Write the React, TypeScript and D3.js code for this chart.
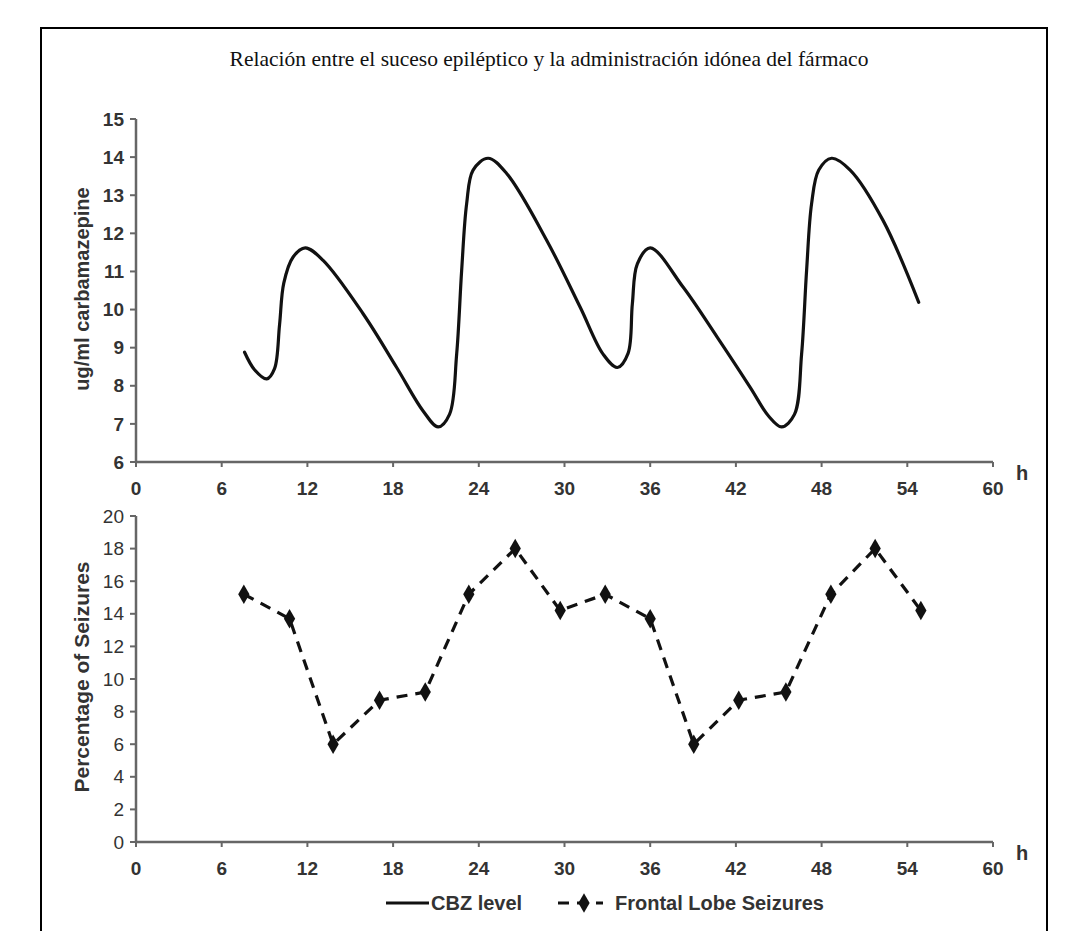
import React, { useEffect, useRef } from 'react';
import * as d3 from 'd3';

const title = 'Relación entre el suceso epiléptico y la administración idónea del fármaco';

// CBZ level curve (hours, ug/ml)
const cbzHours = [7.6, 8.3, 9.15, 9.7, 10.05, 10.35, 11.0, 11.85, 13.1, 15.9, 18.25, 20.1, 21.15, 21.95, 22.45, 22.8, 23.15, 23.6, 24.65, 25.95, 28.75, 31.1, 32.7, 33.7, 34.45, 34.75, 35.1, 36.0, 38.3, 40.7, 43.0, 44.3, 45.2, 46.1, 46.6, 46.95, 47.3, 47.8, 48.7, 50.0, 52.3, 54.8];
const cbzLevel = [8.88, 8.42, 8.18, 8.45, 9.6, 10.7, 11.38, 11.62, 11.29, 9.89, 8.48, 7.34, 6.92, 7.25, 8.83, 11.03, 12.78, 13.66, 13.97, 13.57, 11.82, 10.06, 8.83, 8.48, 8.85, 10.15, 11.2, 11.62, 10.59, 9.27, 7.96, 7.2, 6.92, 7.25, 8.83, 11.03, 12.78, 13.66, 13.97, 13.66, 12.34, 10.19];

// Frontal lobe seizures (hours, %)
const seizureHours = [7.55, 10.75, 13.8, 17.05, 20.25, 23.3, 26.55, 29.7, 32.85, 36.0, 39.05, 42.2, 45.5, 48.65, 51.75, 54.95];
const seizurePct = [15.2, 13.7, 6.0, 8.7, 9.2, 15.2, 18.0, 14.2, 15.2, 13.7, 6.0, 8.7, 9.2, 15.2, 18.0, 14.2];

const xTicks = [0, 6, 12, 18, 24, 30, 36, 42, 48, 54, 60];
const cbzTicks = [6, 7, 8, 9, 10, 11, 12, 13, 14, 15];
const pctTicks = [0, 2, 4, 6, 8, 10, 12, 14, 16, 18, 20];

const W = 1074;
const H = 931;
const sans = '"Liberation Sans", Arial, sans-serif';
const axisColor = '#666';
const textColor = '#333';

export default function App() {
  const svgRef = useRef<SVGSVGElement>(null);

  useEffect(() => {
    const svg = d3.select(svgRef.current);
    svg.selectAll('*').remove();

    svg.append('rect').attr('width', W).attr('height', H).attr('fill', '#fff');

    // frame (open at the bottom of the picture)
    svg.append('rect')
      .attr('x', 41).attr('y', 28).attr('width', 1006).attr('height', 940)
      .attr('fill', 'none').attr('stroke', '#000').attr('stroke-width', 2);

    svg.append('text')
      .attr('x', 549).attr('y', 66)
      .attr('text-anchor', 'middle')
      .style('font-family', '"Liberation Serif", "Times New Roman", serif')
      .style('font-size', '21.5px')
      .attr('fill', '#111')
      .text(title);

    const x = d3.scaleLinear().domain([0, 60]).range([136, 993]);
    const yTop = d3.scaleLinear().domain([6, 15]).range([462, 119]);
    const yBot = d3.scaleLinear().domain([0, 20]).range([842, 516]);

    const drawAxes = (y, ticks, yBold, label, labelBold, labelY) => {
      const g = svg.append('g');
      const [y0, y1] = y.range();
      // x axis
      g.append('line').attr('x1', x(0)).attr('x2', x(60)).attr('y1', y0).attr('y2', y0)
        .attr('stroke', axisColor).attr('stroke-width', 2.5);
      g.selectAll('.xt').data(xTicks).join('line')
        .attr('x1', d => x(d)).attr('x2', d => x(d)).attr('y1', y0).attr('y2', y0 + 5)
        .attr('stroke', axisColor).attr('stroke-width', 2);
      g.selectAll('.xl').data(xTicks).join('text')
        .attr('x', d => x(d)).attr('y', y0 + 33)
        .attr('text-anchor', 'middle')
        .style('font-family', sans).style('font-size', '19px').style('font-weight', 'bold')
        .attr('fill', textColor)
        .text(d => d);
      g.append('text').attr('x', 1022).attr('y', y0 + 18)
        .attr('text-anchor', 'middle')
        .style('font-family', sans).style('font-size', '20px').style('font-weight', 'bold')
        .attr('fill', textColor).text('h');
      // y axis
      g.append('line').attr('x1', x(0)).attr('x2', x(0)).attr('y1', y0 + 1).attr('y2', y1)
        .attr('stroke', axisColor).attr('stroke-width', 2.5);
      g.selectAll('.yt').data(ticks).join('line')
        .attr('x1', x(0) - 6).attr('x2', x(0)).attr('y1', d => y(d)).attr('y2', d => y(d))
        .attr('stroke', axisColor).attr('stroke-width', 2);
      g.selectAll('.yl').data(ticks).join('text')
        .attr('x', x(0) - 12).attr('y', d => y(d)).attr('dy', '0.35em')
        .attr('text-anchor', 'end')
        .style('font-family', sans).style('font-size', '19px')
        .style('font-weight', yBold ? 'bold' : 'normal')
        .attr('fill', textColor)
        .text(d => d);
      g.append('text')
        .attr('transform', `translate(82,${labelY}) rotate(-90)`)
        .attr('text-anchor', 'middle').attr('dy', '0.35em')
        .style('font-family', sans).style('font-size', labelBold ? '20px' : '21px')
        .style('font-weight', labelBold ? 'bold' : '600')
        .attr('fill', textColor)
        .text(label);
    };

    drawAxes(yTop, cbzTicks, true, 'ug/ml carbamazepine', true, 289);
    drawAxes(yBot, pctTicks, false, 'Percentage of Seizures', false, 677);

    // CBZ level
    const cbzLine = d3.line<number>()
      .x((d, i) => x(cbzHours[i]))
      .y(d => yTop(d))
      .curve(d3.curveCatmullRom.alpha(0.5));
    svg.append('path').attr('d', cbzLine(cbzLevel))
      .attr('fill', 'none').attr('stroke', '#111').attr('stroke-width', 3.2)
      .attr('stroke-linejoin', 'round').attr('stroke-linecap', 'round');

    // seizures
    const seizureLine = d3.line<number>()
      .x((d, i) => x(seizureHours[i]))
      .y(d => yBot(d));
    svg.append('path').attr('d', seizureLine(seizurePct))
      .attr('fill', 'none').attr('stroke', '#111').attr('stroke-width', 3.2)
      .attr('stroke-dasharray', '11,8');
    const diamond = d3.symbol().type(d3.symbolDiamond).size(110);
    svg.selectAll('.pt').data(seizurePct).join('path')
      .attr('d', diamond)
      .attr('transform', (d, i) => `translate(${x(seizureHours[i])},${yBot(d)})`)
      .attr('fill', '#111');

    // legend
    const lg = svg.append('g');
    const ly = 903;
    lg.append('line').attr('x1', 386).attr('x2', 429).attr('y1', ly).attr('y2', ly)
      .attr('stroke', '#111').attr('stroke-width', 3.2);
    lg.append('text').attr('x', 431).attr('y', ly).attr('dy', '0.35em')
      .style('font-family', sans).style('font-size', '20px').style('font-weight', 'bold')
      .attr('fill', textColor).text('CBZ level');
    lg.append('line').attr('x1', 558).attr('x2', 603).attr('y1', ly).attr('y2', ly)
      .attr('stroke', '#111').attr('stroke-width', 3.2).attr('stroke-dasharray', '11,8');
    lg.append('path').attr('d', diamond).attr('transform', `translate(584,${ly})`).attr('fill', '#111');
    lg.append('text').attr('x', 615).attr('y', ly).attr('dy', '0.35em')
      .style('font-family', sans).style('font-size', '20px').style('font-weight', 'bold')
      .attr('fill', textColor).text('Frontal Lobe Seizures');
  }, []);

  return (
    <svg ref={svgRef} width={W} height={H}
      style={{ position: 'absolute', left: 0, top: 0, display: 'block' }} />
  );
}
